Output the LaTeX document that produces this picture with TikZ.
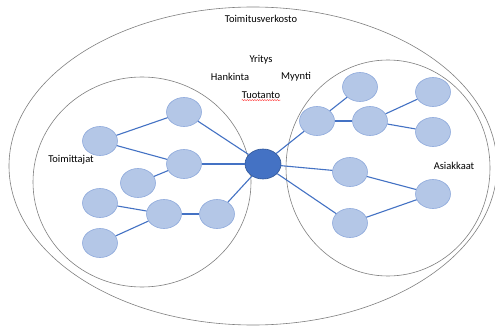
\documentclass[tikz,border=0pt]{standalone}
\usepackage{fontspec}
\setmainfont{Carlito}
\usetikzlibrary{shapes.geometric,decorations.pathmorphing}
\definecolor{nodefill}{HTML}{B4C7E7}
\definecolor{nodeedge}{HTML}{8FAADC}
\definecolor{linkblue}{HTML}{4472C4}
\definecolor{hubedge}{HTML}{2F5597}
\definecolor{ringgray}{HTML}{808080}
\tikzset{
  party/.style={ellipse, draw=nodeedge, fill=nodefill, line width=0.6pt,
    minimum width=35pt, minimum height=29pt, inner sep=0pt},
  hub/.style={ellipse, draw=hubedge, fill=linkblue, line width=0.6pt,
    minimum width=36pt, minimum height=30pt, inner sep=0pt},
  link/.style={draw=linkblue, line width=1.1pt},
  ring/.style={draw=ringgray, line width=0.6pt},
  lbl/.style={font=\fontsize{10.5}{12}\selectfont, inner sep=0pt}
}
\begin{document}
\begin{tikzpicture}[x=1pt, y=-1pt]
\useasboundingbox (0,0) rectangle (495,326);
\fill[white] (0,0) rectangle (495,326);

% network boundary and the two groups
\draw[ring] (253,166) ellipse [x radius=244, y radius=159];
\draw[ring] (142,182) ellipse [x radius=109, y radius=105];
\draw[ring] (388,168) ellipse [x radius=102, y radius=108];

% labels
\node[lbl] (verkosto) at (261,19) {Toimitusverkosto};
\node[lbl] (yritys) at (261,60) {Yritys};
\node[lbl] (hankinta) at (230,77) {Hankinta};
\node[lbl] (myynti) at (296,77) {Myynti};
\node[lbl] (tuotanto) at (261,95) {Tuotanto};
\node[lbl] (toimittajat) at (71,160) {Toimittajat};
\node[lbl] (asiakkaat) at (454,166) {Asiakkaat};
% spell-check squiggle under Tuotanto
\draw[red!80, line width=0.4pt, decorate,
  decoration={snake, amplitude=0.6pt, segment length=2.5pt}]
  ([yshift=-1.5pt]tuotanto.south west) -- ([yshift=-1.5pt]tuotanto.south east);

% the company in the middle
\node[hub] (yr) at (263,164) {};

% suppliers
\node[party] (l1) at (184,112) {};
\node[party] (l2) at (100,141) {};
\node[party] (l3) at (184,164) {};
\node[party] (l4) at (138,183) {};
\node[party] (l5) at (100,203) {};
\node[party] (l6) at (164,214) {};
\node[party] (l7) at (217,214) {};
\node[party] (l8) at (100,243) {};

% customers
\node[party] (r1) at (360,87) {};
\node[party] (r2) at (317,121) {};
\node[party] (r3) at (370,121) {};
\node[party] (r4) at (433,92) {};
\node[party] (r5) at (433,132) {};
\node[party] (r6) at (350,172) {};
\node[party] (r7) at (433,194) {};
\node[party] (r8) at (350,223) {};

% supplier links
\path[link] (l2) -- (l1);
\path[link] (l2) -- (l3);
\path[link] (l1) -- (yr);
\path[link] (l3) -- (yr);
\path[link] (l4) -- (l3);
\path[link] (l5) -- (l6);
\path[link] (l8) -- (l6);
\path[link] (l6) -- (l7);
\path[link] (l7) -- (yr);

% customer links
\path[link] (yr) -- (r2);
\path[link] (r2) -- (r1);
\path[link] (r2) -- (r3);
\path[link] (r3) -- (r4);
\path[link] (r3) -- (r5);
\path[link] (yr) -- (r6);
\path[link] (yr) -- (r8);
\path[link] (r6) -- (r7);
\path[link] (r8) -- (r7);
\end{tikzpicture}
\end{document}
